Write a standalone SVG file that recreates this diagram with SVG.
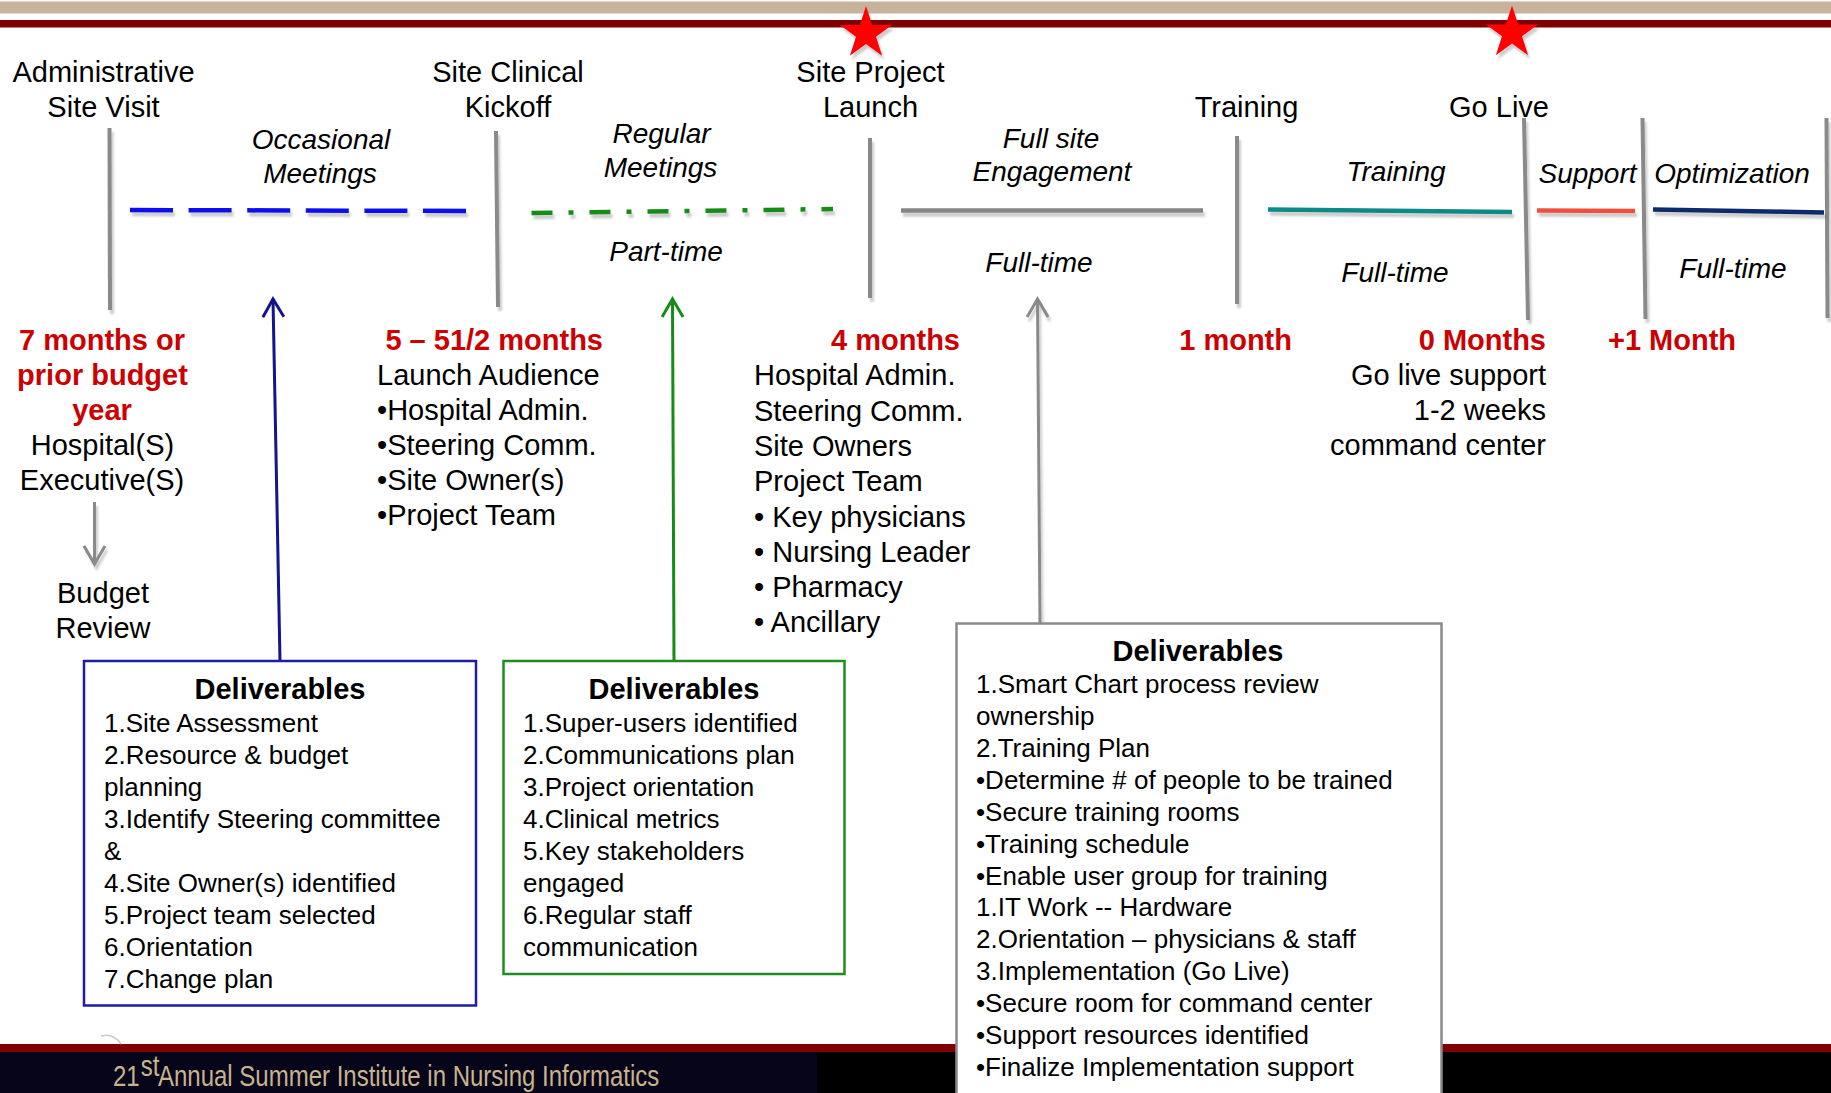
<svg xmlns="http://www.w3.org/2000/svg" xmlns:xlink="http://www.w3.org/1999/xlink" width="1831" height="1093" viewBox="0 0 1831 1093">
  <style>
    text { font-family: "Liberation Sans", Arial, sans-serif; fill: #000; }
    .title { font-size: 29px; text-anchor: middle; }
    .ph { font-size: 28px; font-style: italic; text-anchor: middle; }
    .red { font-size: 29px; font-weight: bold; fill: #cc0000; }
    .info { font-size: 29px; }
    .end { text-anchor: end; }
    .mid { text-anchor: middle; }
    .dt { font-size: 29px; font-weight: bold; text-anchor: middle; }
    .dl { font-size: 26px; }
    .vline { stroke: #8a8a8a; stroke-width: 4; fill: none; filter: url(#shadow); }
    .hline { stroke-width: 4.5; fill: none; filter: url(#shadow); }
    .box { fill: #fff; stroke-width: 2.5; }
    .foot { font-size: 30px; fill: #c8b38e; }
  </style>
  <defs>
    <!-- soft drop shadow; user-space region so thin straight lines keep it -->
    <filter id="shadow" filterUnits="userSpaceOnUse" x="0" y="0" width="1831" height="1093">
      <feDropShadow dx="2" dy="4" stdDeviation="1" flood-color="#000" flood-opacity="0.2"/>
    </filter>
    <path id="star" d="M0,-27.5 L6.17,-8.49 L26.15,-8.5 L9.99,3.24 L16.16,22.25 L0,10.5 L-16.16,22.25 L-9.99,3.24 L-26.15,-8.5 L-6.17,-8.49 Z"/>
    <marker id="headBlue" markerUnits="userSpaceOnUse" markerWidth="26" markerHeight="28" viewBox="-22 -14 26 28" refX="0" refY="0" orient="auto">
      <path d="M-18,-10.5 L0,0 L-18,10.5" fill="none" stroke="#14148c" stroke-width="3"/>
    </marker>
    <marker id="headGreen" markerUnits="userSpaceOnUse" markerWidth="26" markerHeight="28" viewBox="-22 -14 26 28" refX="0" refY="0" orient="auto">
      <path d="M-18,-10.5 L0,0 L-18,10.5" fill="none" stroke="#168c16" stroke-width="3"/>
    </marker>
    <marker id="headGray" markerUnits="userSpaceOnUse" markerWidth="26" markerHeight="28" viewBox="-22 -14 26 28" refX="0" refY="0" orient="auto">
      <path d="M-18,-10.5 L0,0 L-18,10.5" fill="none" stroke="#8a8a8a" stroke-width="3"/>
    </marker>
  </defs>

  <!-- page background and header bands -->
  <rect x="0" y="0" width="1831" height="1093" fill="#fff"/>
  <rect x="0" y="1.5" width="1831" height="12" fill="#c7b39b"/>
  <rect x="0" y="20" width="1831" height="7.5" fill="#800000"/>

  <!-- footer bands -->
  <g id="footer">
    <rect x="0" y="1044" width="1831" height="8" fill="#800000"/>
    <rect x="0" y="1052" width="817" height="41" fill="#06051a"/>
    <rect x="817" y="1052" width="1014" height="41" fill="#000"/>
    <path d="M101,1036 Q113,1033 121,1044" fill="none" stroke="#c8c8c8" stroke-width="1.5"/>
    <!-- condensed footer line: horizontally squeezed sans -->
    <g transform="translate(0,1086) scale(0.8,1)">
      <text class="foot" x="141.25" y="0">21</text>
      <text class="foot" x="176" y="-10" font-size="12">st</text>
      <text class="foot" x="197.5" y="0">Annual Summer Institute in Nursing Informatics</text>
    </g>
  </g>

  <!-- milestone markers -->
  <g id="star-launch" filter="url(#shadow)">
    <use xlink:href="#star" href="#star" x="866" y="33.5" fill="#ff0000"/>
  </g>
  <g id="star-golive" filter="url(#shadow)">
    <use xlink:href="#star" href="#star" x="1512" y="33" fill="#ff0000"/>
  </g>

  <!-- milestones: title + vertical divider -->
  <g id="ms-admin">
    <text class="title" x="103.5" y="82">Administrative</text>
    <text class="title" x="103.5" y="117">Site Visit</text>
    <line class="vline" x1="109.5" y1="128" x2="110" y2="310"/>
  </g>
  <g id="ms-kickoff">
    <text class="title" x="508" y="82">Site Clinical</text>
    <text class="title" x="508" y="117">Kickoff</text>
    <line class="vline" x1="496" y1="131" x2="498" y2="307"/>
  </g>
  <g id="ms-launch">
    <text class="title" x="870.5" y="82">Site Project</text>
    <text class="title" x="870.5" y="117">Launch</text>
    <line class="vline" x1="870" y1="138" x2="870" y2="298"/>
  </g>
  <g id="ms-training">
    <text class="title" x="1246.5" y="117">Training</text>
    <line class="vline" x1="1237" y1="136" x2="1237" y2="304"/>
  </g>
  <g id="ms-golive">
    <text class="title" x="1499" y="117">Go Live</text>
    <line class="vline" x1="1524" y1="118" x2="1528" y2="320"/>
  </g>
  <g id="ms-plus1">
    <line class="vline" x1="1642.5" y1="118" x2="1645.5" y2="319"/>
  </g>
  <g id="ms-end">
    <line class="vline" x1="1826.5" y1="118" x2="1827.5" y2="318"/>
  </g>

  <!-- phases between milestones -->
  <g id="phase-occasional">
    <text class="ph" x="321" y="149">Occasional</text>
    <text class="ph" x="320" y="183">Meetings</text>
    <line class="hline" x1="130" y1="210" x2="466" y2="211" stroke="#1010ee" stroke-dasharray="43 15.6"/>
  </g>
  <g id="phase-regular">
    <text class="ph" x="661.5" y="143">Regular</text>
    <text class="ph" x="660.5" y="177">Meetings</text>
    <line class="hline" x1="531.5" y1="213" x2="833" y2="209" stroke="#168c16" stroke-dasharray="21 16 5 16"/>
    <text class="ph" x="666" y="261">Part-time</text>
  </g>
  <g id="phase-fullsite">
    <text class="ph" x="1051" y="148">Full site</text>
    <text class="ph" x="1052" y="181">Engagement</text>
    <line class="hline" x1="901" y1="210.5" x2="1203" y2="210.5" stroke="#858585"/>
    <text class="ph" x="1039" y="272">Full-time</text>
  </g>
  <g id="phase-training">
    <text class="ph" x="1396" y="181">Training</text>
    <line class="hline" x1="1268" y1="209.5" x2="1512" y2="212" stroke="#0e8a85"/>
    <text class="ph" x="1395" y="282">Full-time</text>
  </g>
  <g id="phase-support">
    <text class="ph" x="1587.5" y="183">Support</text>
    <line class="hline" x1="1537" y1="210.5" x2="1635" y2="211" stroke="#f0503a"/>
  </g>
  <g id="phase-optimization">
    <text class="ph" x="1732" y="183">Optimization</text>
    <line class="hline" x1="1653" y1="209.5" x2="1824" y2="212.5" stroke="#0b2c6a"/>
    <text class="ph" x="1733" y="278">Full-time</text>
  </g>

  <!-- timing and audience notes -->
  <g id="note-7months">
    <text class="red mid" x="102" y="350">7 months or</text>
    <text class="red mid" x="102.5" y="385">prior budget</text>
    <text class="red mid" x="102" y="420">year</text>
    <text class="info mid" x="102.5" y="455">Hospital(S)</text>
    <text class="info mid" x="102" y="490">Executive(S)</text>
  </g>
  <g id="note-budget">
    <text class="info mid" x="103" y="603">Budget</text>
    <text class="info mid" x="103" y="638">Review</text>
  </g>
  <g id="note-5months">
    <text class="red end" x="603" y="350">5 – 51/2 months</text>
    <text class="info" x="377" y="385">Launch Audience</text>
    <text class="info" x="377" y="420">•Hospital Admin.</text>
    <text class="info" x="377" y="455">•Steering Comm.</text>
    <text class="info" x="377" y="490">•Site Owner(s)</text>
    <text class="info" x="377" y="525">•Project Team</text>
  </g>
  <g id="note-4months">
    <text class="red end" x="960" y="350">4 months</text>
    <text class="info" x="754" y="385">Hospital Admin.</text>
    <text class="info" x="754" y="420.5">Steering Comm.</text>
    <text class="info" x="754" y="456">Site Owners</text>
    <text class="info" x="754" y="491">Project Team</text>
    <text class="info" x="754" y="526.5">• Key physicians</text>
    <text class="info" x="754" y="562">• Nursing Leader</text>
    <text class="info" x="754" y="597">• Pharmacy</text>
    <text class="info" x="754" y="632">• Ancillary</text>
  </g>
  <g id="note-1month">
    <text class="red end" x="1292" y="350">1 month</text>
  </g>
  <g id="note-0months">
    <text class="red end" x="1546" y="350">0 Months</text>
    <text class="info end" x="1546" y="385">Go live support</text>
    <text class="info end" x="1546" y="420">1-2 weeks</text>
    <text class="info end" x="1546" y="455">command center</text>
  </g>
  <g id="note-plus1">
    <text class="red" x="1608" y="350">+1 Month</text>
  </g>

  <!-- connectors: deliverable boxes point up to their phases -->
  <g id="connectors">
    <line x1="280" y1="661" x2="273" y2="299" stroke="#14148c" stroke-width="3" marker-end="url(#headBlue)"/>
    <line x1="674" y1="661" x2="672.5" y2="299" stroke="#168c16" stroke-width="3" marker-end="url(#headGreen)"/>
    <line x1="1040" y1="623" x2="1037.5" y2="299" stroke="#8a8a8a" stroke-width="3" marker-end="url(#headGray)" filter="url(#shadow)"/>
    <line x1="94.5" y1="502" x2="94.5" y2="564" stroke="#8a8a8a" stroke-width="3" marker-end="url(#headGray)" filter="url(#shadow)"/>
  </g>

  <!-- deliverable boxes -->
  <g id="deliverables-1">
    <rect class="box" x="84" y="661" width="392" height="344.5" stroke="#1c1ca8"/>
    <text class="dt" x="280" y="699">Deliverables</text>
    <text class="dl" x="104" y="732">1.Site Assessment</text>
    <text class="dl" x="104" y="764">2.Resource &amp; budget</text>
    <text class="dl" x="104" y="796">planning</text>
    <text class="dl" x="104" y="828">3.Identify Steering committee</text>
    <text class="dl" x="104" y="860">&amp;</text>
    <text class="dl" x="104" y="892">4.Site Owner(s) identified</text>
    <text class="dl" x="104" y="924">5.Project team selected</text>
    <text class="dl" x="104" y="956">6.Orientation</text>
    <text class="dl" x="104" y="988">7.Change plan</text>
  </g>
  <g id="deliverables-2">
    <rect class="box" x="503.5" y="661" width="341" height="313" stroke="#1e8c1e"/>
    <text class="dt" x="674" y="699">Deliverables</text>
    <text class="dl" x="523" y="732">1.Super-users identified</text>
    <text class="dl" x="523" y="764">2.Communications plan</text>
    <text class="dl" x="523" y="796">3.Project orientation</text>
    <text class="dl" x="523" y="828">4.Clinical metrics</text>
    <text class="dl" x="523" y="860">5.Key stakeholders</text>
    <text class="dl" x="523" y="892">engaged</text>
    <text class="dl" x="523" y="924">6.Regular staff</text>
    <text class="dl" x="523" y="956">communication</text>
  </g>
  <g id="deliverables-3">
    <rect class="box" x="956.5" y="623.5" width="485" height="480" stroke="#8a8a8a"/>
    <text class="dt" x="1198" y="661">Deliverables</text>
    <text class="dl" x="976" y="693">1.Smart Chart process review</text>
    <text class="dl" x="976" y="725">ownership</text>
    <text class="dl" x="976" y="757">2.Training Plan</text>
    <text class="dl" x="976" y="789">•Determine # of people to be trained</text>
    <text class="dl" x="976" y="821">•Secure training rooms</text>
    <text class="dl" x="976" y="852.5">•Training schedule</text>
    <text class="dl" x="976" y="884.5">•Enable user group for training</text>
    <text class="dl" x="976" y="916">1.IT Work -- Hardware</text>
    <text class="dl" x="976" y="948">2.Orientation – physicians &amp; staff</text>
    <text class="dl" x="976" y="980">3.Implementation (Go Live)</text>
    <text class="dl" x="976" y="1012">•Secure room for command center</text>
    <text class="dl" x="976" y="1044">•Support resources identified</text>
    <text class="dl" x="976" y="1076">•Finalize Implementation support</text>
  </g>
</svg>
